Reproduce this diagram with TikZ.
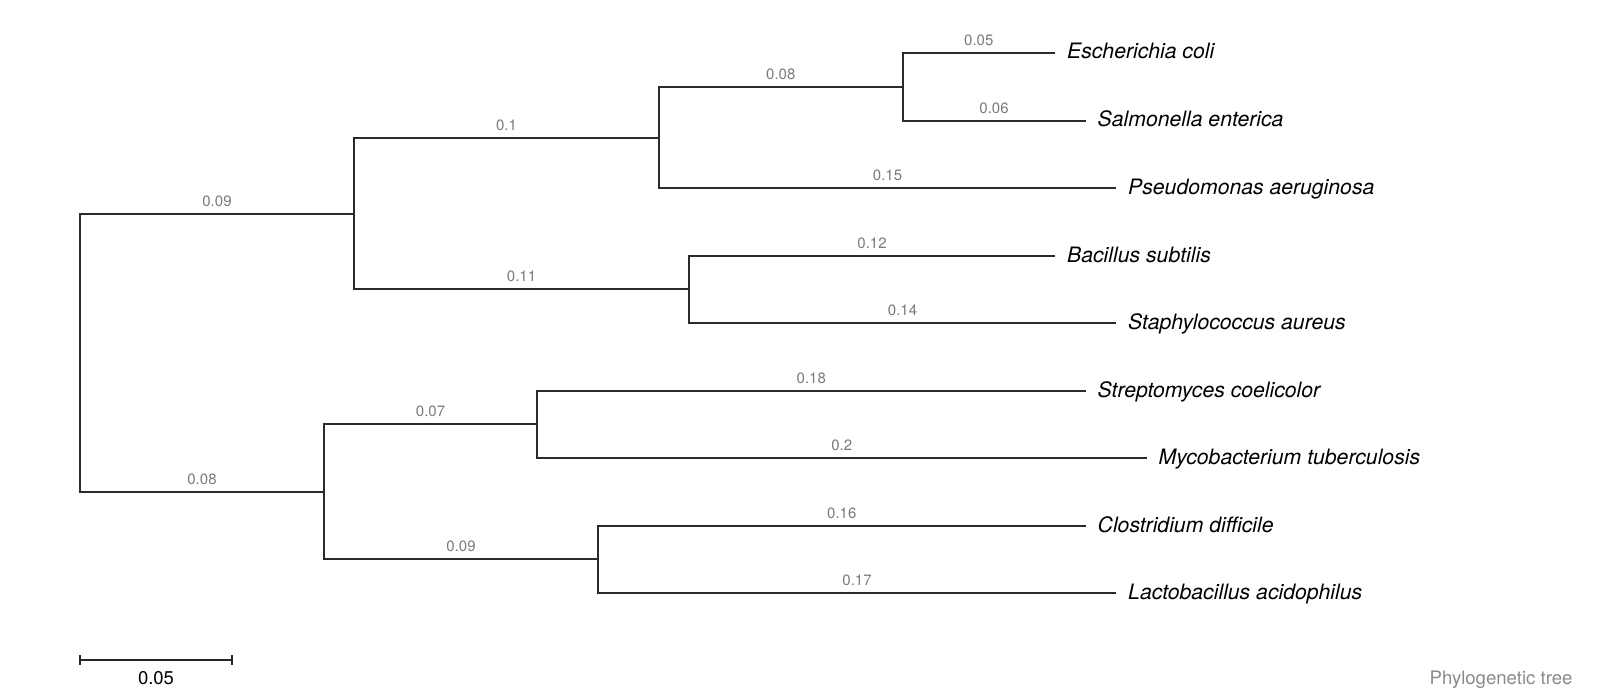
\documentclass[tikz,border=0pt]{standalone}
\usepackage{fontspec}
\setmainfont{TeX Gyre Heros}
\definecolor{treeline}{HTML}{2B2B2B}
\definecolor{blgrey}{HTML}{7A7A7A}
\definecolor{capgrey}{HTML}{8A8A8A}
\begin{document}
\begin{tikzpicture}[x=1bp,y=-1bp,
  branch/.style={draw=treeline, line width=2bp},
  bl/.style={text=blgrey, font=\fontsize{15bp}{18bp}\selectfont, inner sep=0pt, above=6bp},
  leaf/.style={font=\fontsize{21.2bp}{25bp}\selectfont\itshape, inner sep=0pt, anchor=base west},
  sbtext/.style={font=\fontsize{18.5bp}{22bp}\selectfont, inner sep=0pt, text=black},
  captext/.style={font=\fontsize{18.6bp}{22bp}\selectfont, inner sep=0pt, text=capgrey, anchor=base east}
]
\useasboundingbox (0,0) rectangle (1600,700);
% internal nodes
\coordinate (root) at (80,353);
\coordinate (nA) at (354,214);
\coordinate (nB) at (324,492);
\coordinate (nA1) at (659,138);
\coordinate (nA2) at (689,289);
\coordinate (nA11) at (902.5,87);
\coordinate (nB1) at (537,424);
\coordinate (nB2) at (598,559);
% leaf tips
\coordinate (ecoli) at (1055,53);
\coordinate (salm) at (1085.5,121);
\coordinate (pseudo) at (1116,188);
\coordinate (bacil) at (1055,256);
\coordinate (staph) at (1116,323);
\coordinate (strep) at (1085.5,391);
\coordinate (myco) at (1146.5,458);
\coordinate (clos) at (1085.5,526);
\coordinate (lacto) at (1116,593);
% branches
\draw[branch] (root) |- (nA) node[bl,pos=0.75]{0.09};
\draw[branch] (root) |- (nB) node[bl,pos=0.75]{0.08};
\draw[branch] (nA) |- (nA1) node[bl,pos=0.75]{0.1};
\draw[branch] (nA) |- (nA2) node[bl,pos=0.75]{0.11};
\draw[branch] (nA1) |- (nA11) node[bl,pos=0.75]{0.08};
\draw[branch] (nA1) |- (pseudo) node[bl,pos=0.75]{0.15};
\draw[branch] (nA11) |- (ecoli) node[bl,pos=0.75]{0.05};
\draw[branch] (nA11) |- (salm) node[bl,pos=0.75]{0.06};
\draw[branch] (nA2) |- (bacil) node[bl,pos=0.75]{0.12};
\draw[branch] (nA2) |- (staph) node[bl,pos=0.75]{0.14};
\draw[branch] (nB) |- (nB1) node[bl,pos=0.75]{0.07};
\draw[branch] (nB) |- (nB2) node[bl,pos=0.75]{0.09};
\draw[branch] (nB1) |- (strep) node[bl,pos=0.75]{0.18};
\draw[branch] (nB1) |- (myco) node[bl,pos=0.75]{0.2};
\draw[branch] (nB2) |- (clos) node[bl,pos=0.75]{0.16};
\draw[branch] (nB2) |- (lacto) node[bl,pos=0.75]{0.17};
% leaf labels
\node[leaf] (Lecoli) at ([xshift=12bp,yshift=-6bp]ecoli) {Escherichia coli};
\node[leaf] (Lsalm) at ([xshift=12bp,yshift=-6bp]salm) {Salmonella enterica};
\node[leaf] (Lpseudo) at ([xshift=12bp,yshift=-6bp]pseudo) {Pseudomonas aeruginosa};
\node[leaf] (Lbacil) at ([xshift=12bp,yshift=-6bp]bacil) {Bacillus subtilis};
\node[leaf] (Lstaph) at ([xshift=12bp,yshift=-6bp]staph) {Staphylococcus aureus};
\node[leaf] (Lstrep) at ([xshift=12bp,yshift=-6bp]strep) {Streptomyces coelicolor};
\node[leaf] (Lmyco) at ([xshift=12bp,yshift=-6bp]myco) {Mycobacterium tuberculosis};
\node[leaf] (Lclos) at ([xshift=12bp,yshift=-6bp]clos) {Clostridium difficile};
\node[leaf] (Llacto) at ([xshift=12bp,yshift=-6bp]lacto) {Lactobacillus acidophilus};
% scale bar
\coordinate (sb1) at (80,660);
\coordinate (sb2) at (232.3,660);
\draw[branch, draw=black!85] (sb1) -- (sb2);
\draw[branch, draw=black!85] ([yshift=5bp]sb1) -- ([yshift=-5bp]sb1);
\draw[branch, draw=black!85] ([yshift=5bp]sb2) -- ([yshift=-5bp]sb2);
\node[sbtext] (sblabel) at (156,678) {0.05};
% caption
\node[captext] (caption) at (1572.7,684.3) {Phylogenetic tree};
\end{tikzpicture}
\end{document}
